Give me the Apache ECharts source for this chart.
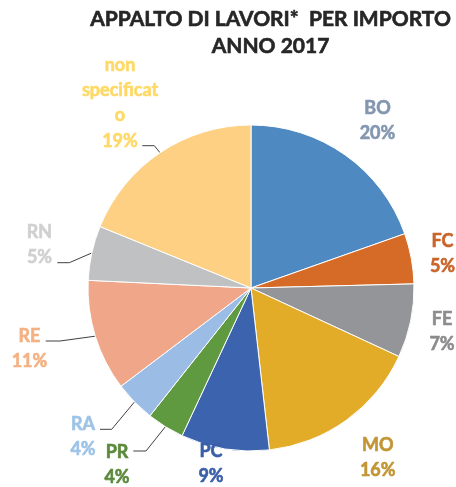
<!DOCTYPE html>
<html>
<head>
<meta charset="utf-8">
<script src="https://cdn.jsdelivr.net/npm/echarts@6/dist/echarts.min.js"></script>
<style>
html,body{margin:0;padding:0;background:#fff;}
#chart{width:456px;height:487px;}
</style>
</head>
<body>
<div id="chart"></div>
<script>
// ---- data ----
var categories = ['BO', 'FC', 'FE', 'MO', 'PC', 'PR', 'RA', 'RE', 'RN', 'non specificato'];
var labelNames = ['BO', 'FC', 'FE', 'MO', 'PC', 'PR', 'RA', 'RE', 'RN', 'non\nspecificat\no'];
var shares = [19.6, 5.0, 7.3, 16.3, 8.75, 3.7, 4.05, 11.05, 5.4, 18.85];
var titleLines = ['APPALTO DI LAVORI*  PER IMPORTO', 'ANNO 2017'];

// ---- styles ----
var sliceColors = ['#4e8ac1', '#d56b27', '#939598', '#e3ac28', '#3c64ae', '#5f9a41', '#9bbde5', '#f0a689', '#c0c1c3', '#fed083'];
var labelColors = ['#8497b0', '#c9652a', '#8c8c8c', '#c29535', '#3b5ea8', '#5b8a3c', '#9dc3e6', '#f4b183', '#d0d0d0', '#ffd966'];
// label block centres [x, y] and leader-line bend / end points (layout only)
var labelAnchor = [[377.5,120.5],[442.5,253.5],[442,331.5],[377.7,457.7],[211,464],[117,465],[83,437],[29.5,348.8],[39.5,244.8],[120,103]];
var leader = {
  5: [[146,451],[133.3,451]],
  6: [[111.7,429.3],[100,429.3]],
  7: [[60,341],[45.7,341]],
  8: [[69.3,262.7],[57.3,262.7]],
  9: [[154.3,145.7],[142.3,145.7]]
};

var chart = echarts.init(document.getElementById('chart'), null, {renderer: 'canvas'});
var data = categories.map(function (c, i) {
  return {
    name: c,
    value: shares[i],
    itemStyle: {color: sliceColors[i]},
    label: {color: labelColors[i], textBorderColor: labelColors[i], textBorderWidth: 0.6},
    labelLine: {show: !!leader[i]}
  };
});

chart.setOption({
  animation: false,
  backgroundColor: '#ffffff',
  title: {
    text: titleLines.join('\n'),
    left: 270.5,
    top: 6,
    textAlign: 'center',
    padding: 0,
    textStyle: {
      fontFamily: 'Lato',
      fontWeight: 'bold',
      fontSize: 21,
      lineHeight: 26.7,
      color: '#262626',
      textBorderColor: '#262626',
      textBorderWidth: 0.6
    }
  },
  series: [{
    type: 'pie',
    center: [251, 288],
    radius: 163,
    startAngle: 90,
    clockwise: true,
    avoidLabelOverlap: false,
    percentPrecision: 0,
    itemStyle: {borderColor: '#ffffff', borderWidth: 1},
    label: {
      show: true,
      position: 'outside',
      formatter: function (p) { return labelNames[p.dataIndex] + '\n' + p.percent + '%'; },
      fontFamily: 'Lato',
      fontWeight: 'bold',
      fontSize: 18,
      lineHeight: 25.3,
      align: 'center'
    },
    labelLine: {
      show: true,
      length: 10,
      length2: 10,
      smooth: false,
      lineStyle: {color: '#404040', width: 1}
    },
    labelLayout: function (p) {
      var i = p.dataIndex;
      var out = {
        x: labelAnchor[i][0],
        y: labelAnchor[i][1],
        align: 'center',
        verticalAlign: 'middle'
      };
      if (leader[i] && p.labelLinePoints) {
        out.labelLinePoints = [p.labelLinePoints[0], leader[i][0], leader[i][1]];
      }
      return out;
    },
    data: data
  }]
});
</script>
</body>
</html>
